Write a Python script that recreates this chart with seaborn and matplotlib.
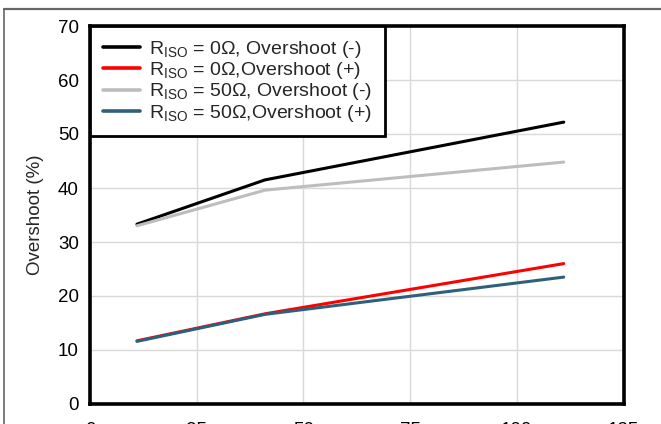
import pandas as pd
import seaborn as sns
import matplotlib.pyplot as plt

# values
x_vals = [11, 41, 111]
r0_neg = [33.3, 41.5, 52.2]
r0_pos = [11.7, 16.7, 26.0]
r50_neg = [33.0, 39.6, 44.8]
r50_pos = [11.6, 16.6, 23.5]

labels = [
    r'R$_{\mathrm{ISO}}$ = 0Ω, Overshoot (-)',
    r'R$_{\mathrm{ISO}}$ = 0Ω,Overshoot (+)',
    r'R$_{\mathrm{ISO}}$ = 50Ω, Overshoot (-)',
    r'R$_{\mathrm{ISO}}$ = 50Ω,Overshoot (+)',
]
colors = ['#000000', '#ff0000', '#bdbdbd', '#2f5f7a']
x_ticks = [0, 25, 50, 75, 100, 125]
y_ticks = [0, 10, 20, 30, 40, 50, 60, 70]

frames = []
for lab, ys in zip(labels, [r0_neg, r0_pos, r50_neg, r50_pos]):
    frames.append(pd.DataFrame({'x': x_vals, 'y': ys, 'series': lab}))
df = pd.concat(frames, ignore_index=True)

sns.set_style('white')
plt.rcParams['font.family'] = ['Liberation Sans', 'DejaVu Sans']
plt.rcParams['mathtext.fontset'] = 'custom'
plt.rcParams['mathtext.rm'] = 'Liberation Sans'
plt.rcParams['mathtext.it'] = 'Liberation Sans:italic'

fig = plt.figure(figsize=(6.61, 4.24), dpi=100)

# outer frame line along the top and left edges
top_y = 1 - 9 / 424
left_x = 4 / 661
fig.add_artist(plt.Line2D([left_x, 1.0], [top_y, top_y],
                          transform=fig.transFigure, color='#666666',
                          linewidth=1.6))
fig.add_artist(plt.Line2D([left_x, left_x], [0.0, top_y],
                          transform=fig.transFigure, color='#666666',
                          linewidth=1.2))

ax = fig.add_axes([90 / 661, 20 / 424, 533.5 / 661, 378 / 424])

sns.lineplot(data=df, x='x', y='y', hue='series', hue_order=labels,
             palette=colors, linewidth=2.2, ax=ax)

ax.set_xlim(0, 125)
ax.set_ylim(0, 70)
ax.set_xticks(x_ticks)
ax.set_yticks(y_ticks)
ax.grid(True, color='#d9d9d9', linewidth=1)
ax.set_axisbelow(True)
ax.tick_params(length=0, labelsize=13.5, pad=8, colors='#000000')
ax.tick_params(axis='x', pad=13)
ax.set_xlabel('')
ax.set_ylabel('Overshoot (%)', fontsize=13.5, labelpad=10)
for sp in ax.spines.values():
    sp.set_visible(True)
    sp.set_color('black')
    sp.set_linewidth(2.6)

leg = ax.legend(loc='upper left', borderaxespad=0, fontsize=14,
                frameon=True, fancybox=False, framealpha=1,
                handlelength=1.9, handletextpad=0.5, labelspacing=0.02,
                borderpad=0.65)
leg.get_frame().set_edgecolor('black')
leg.get_frame().set_linewidth(2)
for h in leg.get_lines():
    h.set_linewidth(2.6)

fig.savefig('out.png', dpi=100)
